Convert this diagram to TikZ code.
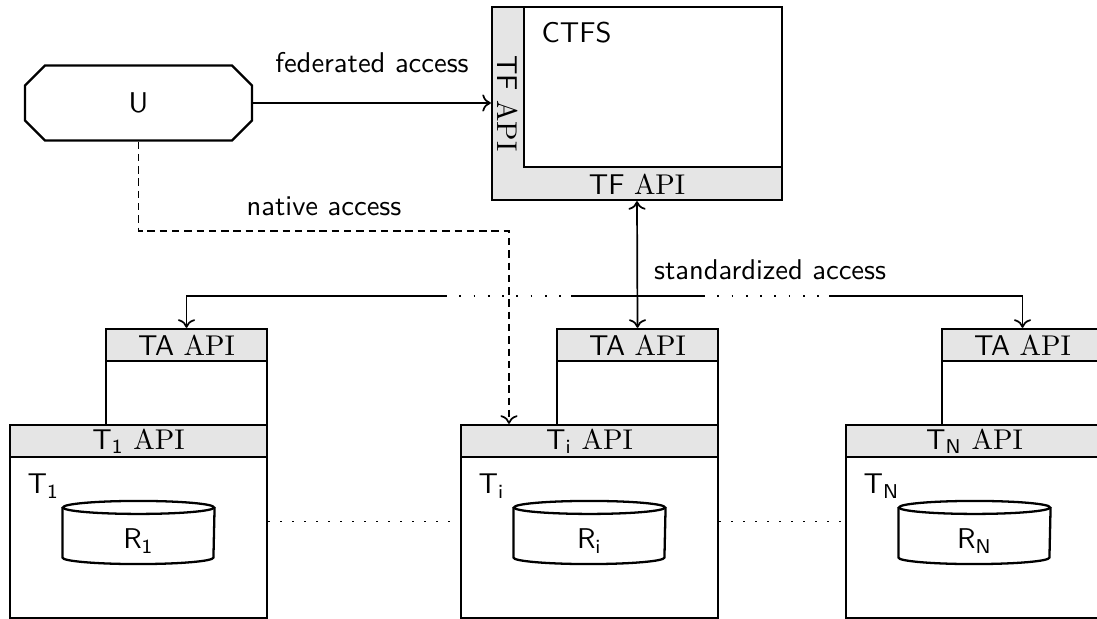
\documentclass[tikz,border=0pt]{standalone}
\usetikzlibrary{shapes.misc,arrows.meta}
\begin{document}
\begin{tikzpicture}[x=0.35pt,y=-0.35pt,font=\sffamily,
  box/.style={draw,line width=0.8pt,inner sep=0pt},
  apibar/.style={box,fill=black!10},
  link/.style={line width=0.6pt},
  tip/.style={link,-{To[length=3pt,width=6pt]}},
  tips/.style={link,{To[length=3pt,width=6pt]}-{To[length=3pt,width=6pt]}},
  dashline/.style={link,dash pattern=on 2.6pt off 1.7pt},
  dotline/.style={link,dash pattern=on 0.6pt off 3.6pt},
  busdots/.style={link,dash pattern=on 0.6pt off 4.4pt},
  plain/.style={inner sep=0pt}]
\def\u{0.35pt}
\useasboundingbox (0,0) rectangle (1097,619);
\clip (0,0) rectangle (1097,619);

% user
\node[box,chamfered rectangle,chamfered rectangle xsep=17*\u,chamfered rectangle ysep=17*\u,
      minimum width=227*\u,minimum height=75*\u] (u) at (138.5,103) {U};

% central federation service
\node[apibar,minimum width=290*\u,minimum height=193*\u] (ctfs) at (637,103.5) {};
\node[box,fill=white,minimum width=258*\u,minimum height=160*\u] (core) at (653,87) {};
\node[plain,anchor=base west] (ctfsl) at (541,43) {CTFS};
\node[rotate=-90] (tfleft) at (508,103.5) {TF \textrm{API}};
\node (tfbottom) at (637,184) {TF \textrm{API}};

% testbeds
\foreach \L/\nm/\sub in {10/1/1,461/i/i,846/n/N}{
  \node[box,minimum width=161*\u,minimum height=96*\u] (ta\nm) at ({\L+176.5},377) {};
  \node[apibar,minimum width=161*\u,minimum height=32*\u] (tah\nm) at ({\L+176.5},345) {TA \textrm{API}};
  \node[box,fill=white,minimum width=257*\u,minimum height=193*\u] (t\nm) at ({\L+128.5},521.5) {};
  \node[apibar,minimum width=257*\u,minimum height=32*\u] (th\nm) at ({\L+128.5},441) {T\textsubscript{\sub} \textrm{API}};
  \node[plain,anchor=base west] (tl\nm) at ({\L+17},494) {T\textsubscript{\sub}};
  % resource store
  \node[plain,minimum width=151*\u,minimum height=62*\u] (db\nm) at ({\L+128.5},532.5) {};
  \draw[box] ([yshift=-6.5*\u]db\nm.north west) -- ([yshift=6.5*\u]db\nm.south west)
     arc[start angle=180,end angle=0,x radius=75.5,y radius=6.5]
     -- ([yshift=-6.5*\u]db\nm.north east);
  \draw[box] ([yshift=-6.5*\u]db\nm.north) ellipse[x radius=75.5,y radius=6.5];
  \node[plain,anchor=base] (r\nm) at ({\L+128.5},549) {R\textsubscript{\sub}};
}

% federated access
\draw[tip] (u.east) -- (u.east -| ctfs.west)
  node[midway,above=7pt] (fedl) {federated access};

% standardized access
\draw[tips] (ctfs.south) -- (tahi.north);
\node[anchor=west] (stdl) at (644,270) {standardized access};

% distribution bus
\coordinate (bus) at (0,296);
\coordinate (g1) at (445,296);
\coordinate (g2) at (571,296);
\coordinate (g3) at (703,296);
\coordinate (g4) at (829,296);
\draw[tip] (g1) -- (bus -| tah1.north) -- (tah1.north);
\draw[tip] (g4) -- (bus -| tahn.north) -- (tahn.north);
\draw[link] (g2) -- (g3);
\draw[busdots] (g1) -- (g2);
\draw[busdots] (g3) -- (g4);

% native access
\coordinate (nbend) at (509,231);
\draw[dashline,-{To[length=3pt,width=6pt]}] (u.south) |- (nbend) -- (nbend |- thi.north);
\node (natl) at (324,206) {native access};

% links between testbeds
\draw[dotline] (t1.east) -- (ti.west);
\draw[dotline] (ti.east) -- (tn.west);
\end{tikzpicture}
\end{document}
